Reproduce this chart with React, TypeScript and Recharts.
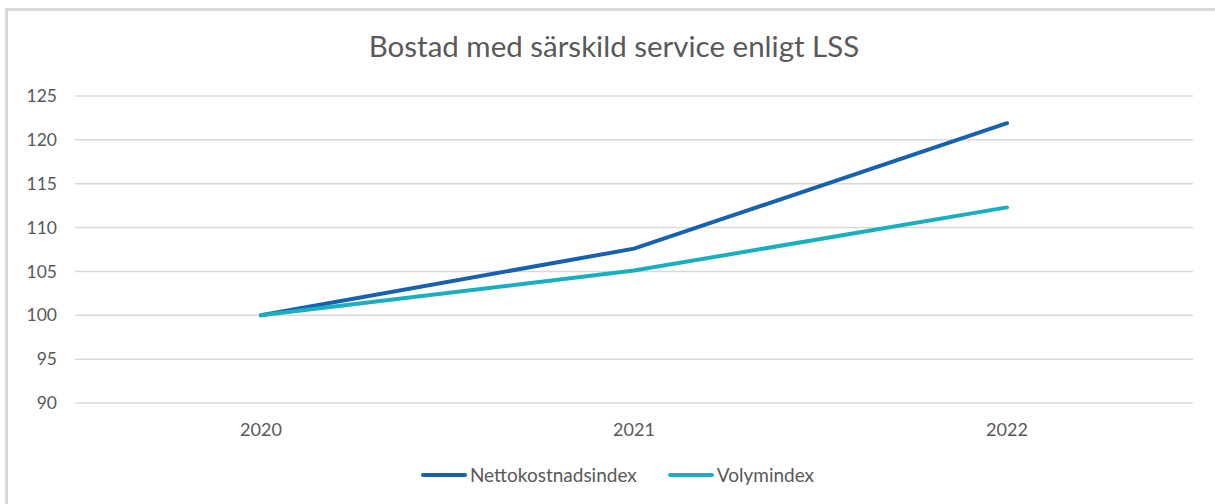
import React from 'react';
import { LineChart, Line, XAxis, YAxis, CartesianGrid, Legend } from 'recharts';

const years = ['2020', '2021', '2022'];
const nettokostnadsindex = [100, 107.6, 121.9];
const volymindex = [100, 105.1, 112.3];
const yTicks = [90, 95, 100, 105, 110, 115, 120, 125];

const data = years.map((year, i) => ({
  year,
  Nettokostnadsindex: nettokostnadsindex[i],
  Volymindex: volymindex[i],
}));

const FONT = 'Lato, "Open Sans", "Liberation Sans", sans-serif';
const TEXT = '#595959';

const CustomLegend = ({ payload }: any) => (
  <div style={{ display: 'flex', justifyContent: 'center', gap: 31, fontFamily: FONT, fontSize: 19, color: TEXT, lineHeight: '24px' }}>
    {payload.map((p: any) => (
      <div key={p.value} style={{ display: 'flex', alignItems: 'center' }}>
        <span style={{ display: 'inline-block', width: 46, height: 4, borderRadius: 2, background: p.color, marginRight: 3 }} />
        <span>{p.value}</span>
      </div>
    ))}
  </div>
);

const App: React.FC = () => {
  return (
    <div style={{ position: 'absolute', left: 0, top: 0, width: 1215, height: 504, background: '#fff', overflow: 'hidden' }}>
      <div style={{ position: 'absolute', left: 5, top: 8, width: 1300, height: 600, border: '3px solid #d9d9d9', boxSizing: 'border-box' }} />
      <div style={{ position: 'absolute', left: 0, top: 28, width: 1228, textAlign: 'center', fontFamily: FONT, fontSize: 29.5, color: TEXT }}>
        Bostad med särskild service enligt LSS
      </div>
      <div style={{ position: 'absolute', left: 0, top: 0 }}>
        <LineChart width={1215} height={504} data={data} margin={{ top: 96, right: 22, bottom: 47, left: 0 }}>
          <CartesianGrid vertical={false} stroke="#d9d9d9" strokeWidth={1.5} />
          <XAxis
            dataKey="year"
            axisLine={false}
            tickLine={false}
            tickSize={0}
            tickMargin={20}
            padding={{ left: 186, right: 186 }}
            tick={{ fill: TEXT, fontSize: 18, fontFamily: FONT }}
          />
          <YAxis
            width={75}
            domain={[90, 125]}
            ticks={yTicks}
            axisLine={false}
            tickLine={false}
            tickSize={0}
            tickMargin={18}
            tick={{ fill: TEXT, fontSize: 17.5, fontFamily: FONT }}
          />
          <Legend
            verticalAlign="bottom"
            content={<CustomLegend />}
            wrapperStyle={{ top: 463, left: 0, width: 1235 }}
          />
          <Line type="linear" dataKey="Nettokostnadsindex" stroke="#1762ae" strokeWidth={4} dot={false} strokeLinecap="round" isAnimationActive={false} />
          <Line type="linear" dataKey="Volymindex" stroke="#1aafc0" strokeWidth={4} dot={false} strokeLinecap="round" isAnimationActive={false} />
        </LineChart>
      </div>
    </div>
  );
};

export default App;
